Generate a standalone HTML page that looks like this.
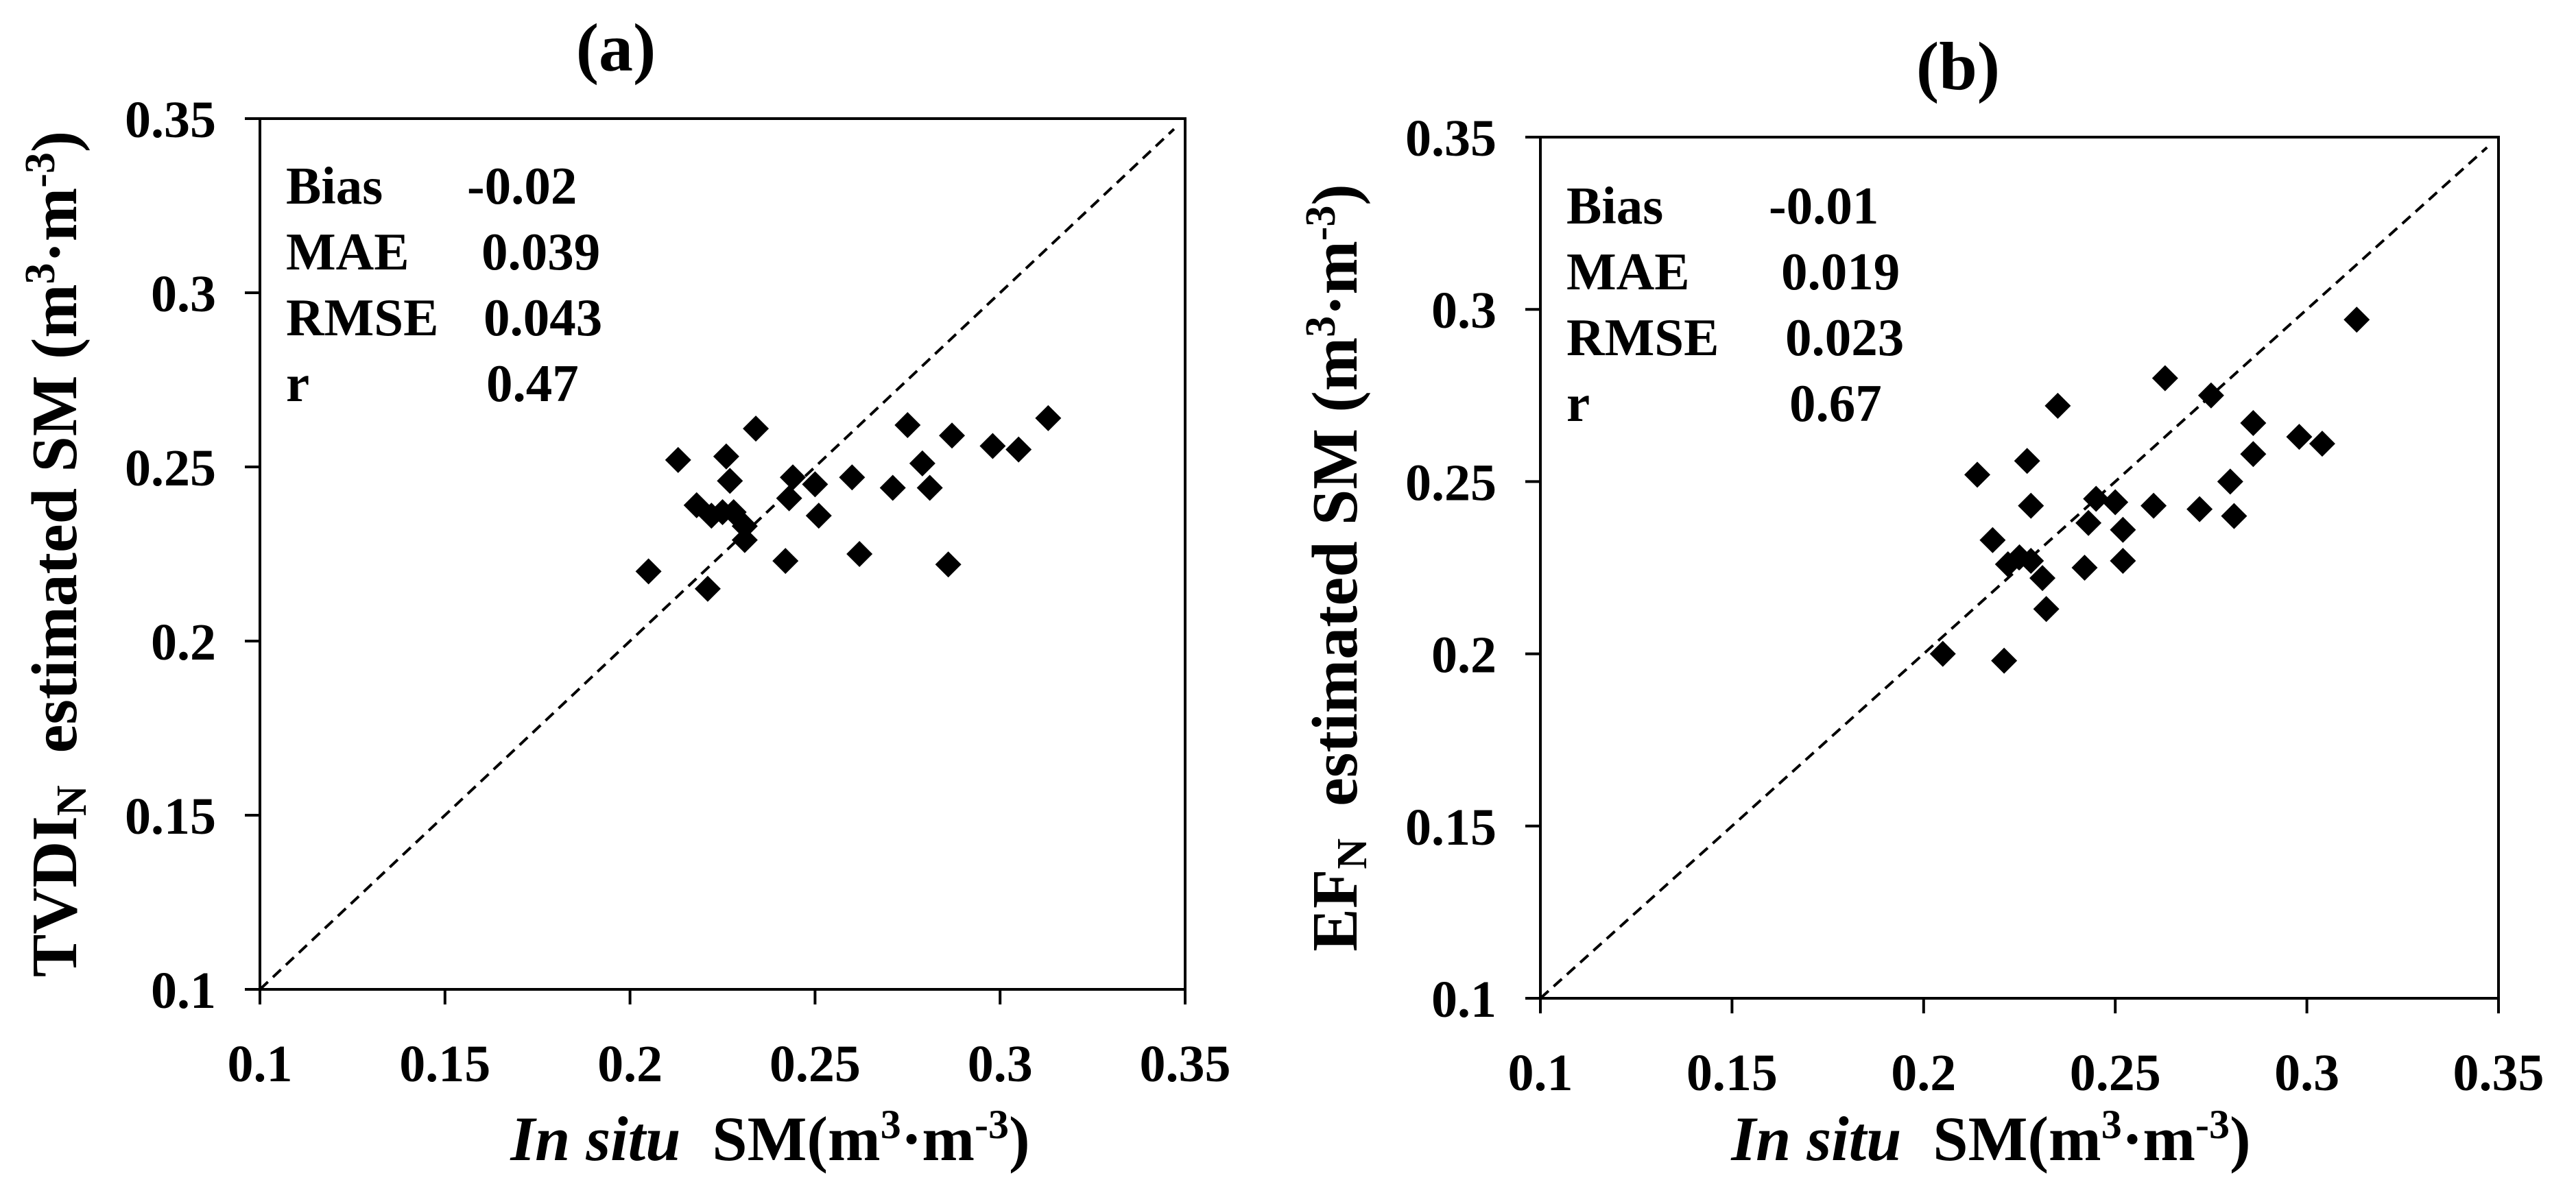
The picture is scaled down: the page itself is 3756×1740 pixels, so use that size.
<!DOCTYPE html>
<html><head><meta charset="utf-8"><style>
html,body{margin:0;padding:0;background:#fff;}
svg{display:block;}
svg text{font-family:"Liberation Serif","Times New Roman","DejaVu Serif",serif;font-weight:bold;}
</style></head><body>
<svg id="fig" width="3756" height="1740" viewBox="0 0 3756 1740" xmlns="http://www.w3.org/2000/svg"></svg>
<script>
const xTicks = [0.1, 0.15, 0.2, 0.25, 0.3, 0.35];
const yTicks = [0.1, 0.15, 0.2, 0.25, 0.3, 0.35];
const tickLabels = ["0.1", "0.15", "0.2", "0.25", "0.3", "0.35"];
const insituA = [0.205,0.213,0.218,0.221,0.222,0.225,0.226,0.227,0.228,0.231,0.231,0.234,0.242,0.243,0.244,0.250,0.251,0.260,0.262,0.271,0.275,0.279,0.281,0.286,0.287,0.298,0.305,0.313];
const estA = [0.220,0.252,0.239,0.215,0.236,0.237,0.253,0.246,0.237,0.233,0.229,0.261,0.223,0.241,0.247,0.245,0.236,0.247,0.225,0.244,0.262,0.251,0.244,0.222,0.259,0.256,0.255,0.264];
const insituB = [0.205,0.221,0.214,0.218,0.222,0.225,0.227,0.228,0.228,0.231,0.232,0.235,0.242,0.243,0.245,0.250,0.252,0.252,0.260,0.263,0.272,0.275,0.280,0.281,0.286,0.286,0.298,0.304,0.313];
const estB = [0.200,0.198,0.252,0.233,0.226,0.228,0.256,0.243,0.227,0.222,0.213,0.272,0.225,0.238,0.245,0.244,0.236,0.227,0.243,0.280,0.242,0.275,0.250,0.240,0.267,0.258,0.263,0.261,0.297];
const statNames = ["Bias","MAE","RMSE","r"];
const statsA = ["-0.02","0.039","0.043","0.47"];
const statsB = ["-0.01","0.019","0.023","0.67"];

const NS="http://www.w3.org/2000/svg";
const FF='"Liberation Serif","Times New Roman","DejaVu Serif",serif';
const svg=document.getElementById('fig');
function mk(tag,attrs,parent){const e=document.createElementNS(NS,tag);for(const k in attrs)e.setAttribute(k,attrs[k]);if(tag==='text'){e.setAttribute('font-family',FF);e.setAttribute('font-weight','bold');}(parent||svg).appendChild(e);return e;}

function panel(id,box,xs,ys,stats,statX,statY0,title,titleX,yTitleMain,xTitleX){
  const g=mk('g',{});
  
  
  const X=v=>box.l+(v-0.1)/0.25*(box.r-box.l);
  const Y=v=>box.b-(v-0.1)/0.25*(box.b-box.t);
  const frame=mk('rect',{x:box.l,y:box.t,width:box.r-box.l,height:box.b-box.t,fill:'none',stroke:'#000','stroke-width':4},g);
  
  
  xTicks.forEach((v,i)=>{
    mk('line',{x1:X(v),x2:X(v),y1:box.b,y2:box.b+22,stroke:'#000','stroke-width':4},g);
    const t=mk('text',{x:X(v),y:box.b+134,'font-size':76,'text-anchor':'middle'},g);
    t.textContent=tickLabels[i];
    
    
  });
  yTicks.forEach((v,i)=>{
    mk('line',{x1:box.l-22,x2:box.l,y1:Y(v),y2:Y(v),stroke:'#000','stroke-width':4},g);
    const t=mk('text',{x:box.l-64,y:Y(v)+27,'font-size':76,'text-anchor':'end'},g);
    t.textContent=tickLabels[i];
    
    
  });
  const d=mk('line',{x1:X(0.1),y1:Y(0.1),x2:X(0.347),y2:Y(0.347),stroke:'#000','stroke-width':4,'stroke-dasharray':'16,10'},g);
  
  
  xs.forEach((xv,i)=>{
    const cx=X(xv),cy=Y(ys[i]),h=19;
    const p=mk('polygon',{points:`${cx},${cy-h} ${cx+h},${cy} ${cx},${cy+h} ${cx-h},${cy}`,fill:'#000'},g);
    
    
  });
  statNames.forEach((n,i)=>{
    const t=mk('text',{x:box.l+38,y:statY0+i*96,'font-size':77},g);
    t.textContent=n;
    
    
    const v=mk('text',{x:statX[i],y:statY0+i*96,'font-size':77},g);
    v.textContent=stats[i];
    
    
  });
  const tt=mk('text',{x:titleX,y:box.t-70,'font-size':100,'text-anchor':'middle'},g);
  tt.textContent=title;
  
  
  const xt=mk('text',{x:xTitleX,y:1692,'font-size':92,'text-anchor':'middle'},g);
  xt.innerHTML='<tspan font-style="italic">In situ</tspan><tspan xml:space="preserve">  SM(m</tspan><tspan font-size="60" dy="-32">3</tspan><tspan dy="32">·m</tspan><tspan font-size="60" dy="-32">-3</tspan><tspan dy="32">)</tspan>';
  
  
  const cy=(box.t+box.b)/2;
  const yt=mk('text',{x:0,y:0,'font-size':94,'text-anchor':'middle',transform:`translate(${box.l-268},${cy}) rotate(-90)`},g);
  yt.innerHTML=yTitleMain+'<tspan font-size="62" dy="14">N</tspan><tspan dy="-14" xml:space="preserve">  estimated SM (m</tspan><tspan font-size="62" dy="-32">3</tspan><tspan dy="32">·m</tspan><tspan font-size="62" dy="-32">-3</tspan><tspan dy="32">)</tspan>';
  
  
}
panel('a',{l:379,r:1728,t:173,b:1443},insituA,estA,statsA,[681,702,705,709],297,'(a)',898,'TVDI',1123);
panel('b',{l:2246,r:3643,t:200,b:1456},insituB,estB,statsB,[2579,2597,2603,2609],326,'(b)',2855,'EF',2903);
</script>
</body></html>
